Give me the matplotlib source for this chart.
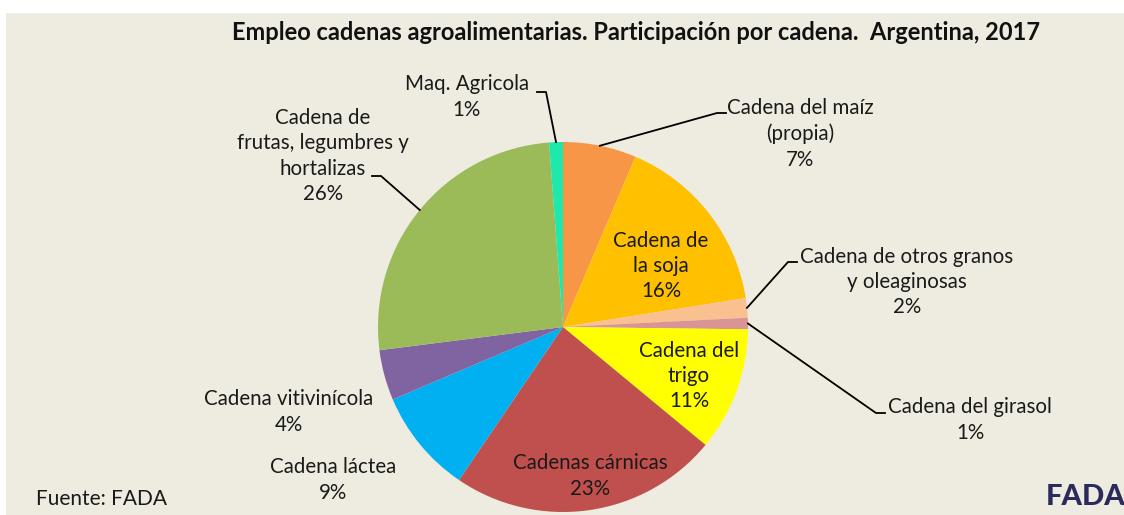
import matplotlib.pyplot as plt
import numpy as np
from matplotlib.patches import Rectangle

plt.rcParams['font.family'] = ['Lato', 'DejaVu Sans']

# participación por cadena (%), en sentido horario desde arriba
cadenas = ["Cadena del maíz\n(propia)", "Cadena de\nla soja", "Cadena de otros granos\ny oleaginosas",
           "Cadena del girasol", "Cadena del\ntrigo", "Cadenas cárnicas", "Cadena láctea",
           "Cadena vitivinícola", "Cadena de\nfrutas, legumbres y\nhortalizas", "Maq. Agricola"]
valores = [6.4, 16.1, 1.7, 1.0, 10.8, 23.5, 9.1, 4.4, 25.8, 1.2]
etiquetas_pct = ["7%", "16%", "2%", "1%", "11%", "23%", "9%", "4%", "26%", "1%"]
colores = ["#F79646", "#FFC000", "#FAC090", "#D99594", "#FFFF00", "#C0504D", "#00B0F0",
           "#8064A2", "#9BBB59", "#1EE8AA"]

# posición de cada etiqueta (px desde arriba) y fin de la línea guía: (x, y, guía_x, guía_y, lado)
pos_etiquetas = [
    (800, 134, 726, 113, "l"),
    (661, 266, None, None, None),
    (907, 282, 797, 262, "l"),
    (970, 420, 885, 413, "l"),
    (689, 376, None, None, None),
    (590, 476, None, None, None),
    (333, 480, None, None, None),
    (289, 412, None, None, None),
    (323, 156, 372, 176, "r"),
    (467, 97, 537, 92, "r"),
]

W, H = 1124, 515
fig = plt.figure(figsize=(W / 100, H / 100), dpi=100)
ax = fig.add_axes([0, 0, 1, 1])


def yy(y):
    # coordenada y medida desde arriba -> ejes
    return H - y


ax.add_patch(Rectangle((6, 0), W, H - 13, facecolor="#EEEBE0", edgecolor="none", zorder=0))

cx, cy, r = 563, 327, 185
wedges, _ = ax.pie(valores, colors=colores, startangle=90, counterclock=False,
                   center=(cx, yy(cy)), radius=r, frame=True,
                   wedgeprops=dict(linewidth=0))
ax.set_xlim(0, W)
ax.set_ylim(0, H)
ax.set_aspect("equal")
ax.axis("off")

for w, nombre, pct, (tx, ty, gx, gy, lado) in zip(wedges, cadenas, etiquetas_pct, pos_etiquetas):
    ax.text(tx, yy(ty), nombre + "\n" + pct, ha="center", va="center", fontsize=14.8,
            color="#1a1a1a", linespacing=1.32, zorder=5)
    if gx is None:
        continue
    ang = np.deg2rad((w.theta1 + w.theta2) / 2)
    px = cx + r * np.cos(ang)
    py = yy(cy) + r * np.sin(ang)
    codo = gx - 9 if lado == "l" else gx + 9
    ax.plot([px, codo, gx], [py, yy(gy), yy(gy)], color="black", lw=1.3, zorder=4)

ax.text(636, yy(33), "Empleo cadenas agroalimentarias. Participación por cadena.  Argentina, 2017",
        ha="center", va="center", fontsize=17, fontweight="bold", color="#111111")
ax.text(36, yy(499), "Fuente: FADA", ha="left", va="center", fontsize=15, color="#1a1a1a")
ax.text(1125, yy(497), "FADA", ha="right", va="center", fontsize=21, fontweight="black",
        color="#2B2A5C")

fig.savefig("out.png", dpi=100, facecolor="white")
